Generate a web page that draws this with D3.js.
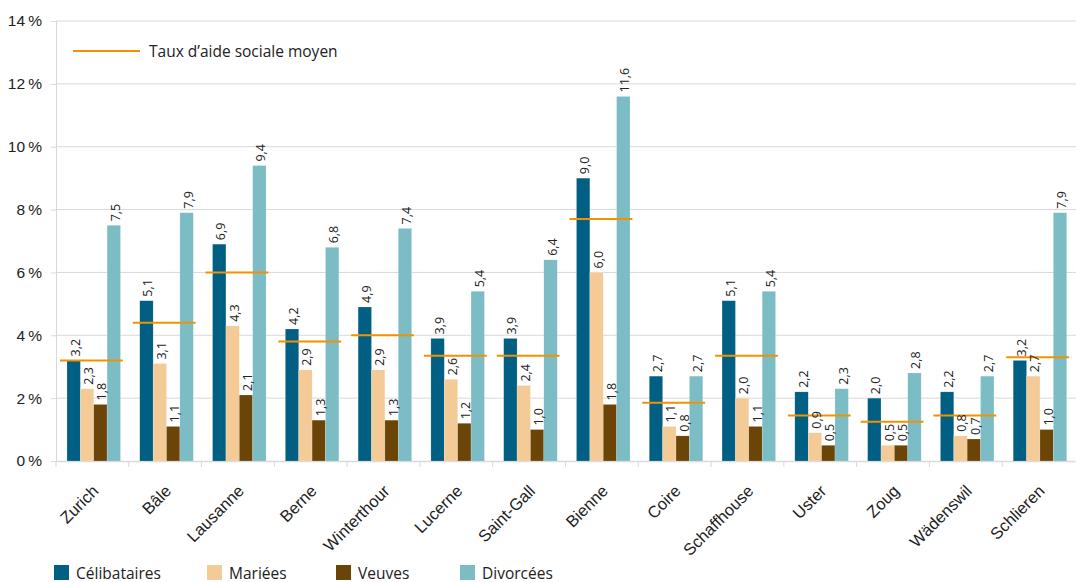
<!DOCTYPE html>
<html>
<head>
<meta charset="utf-8">
<script src="https://cdn.jsdelivr.net/npm/d3@7"></script>
<style>
  html, body { margin: 0; padding: 0; background: #fff; }
  svg { display: block; font-family: "Open Sans", "Noto Sans", sans-serif; }
</style>
</head>
<body>
<svg id="chart" width="1076" height="582"></svg>
<script>
// Taux d'aide sociale par état civil, par ville (%)
const cities = ["Zurich", "Bâle", "Lausanne", "Berne", "Winterthour", "Lucerne", "Saint-Gall",
  "Bienne", "Coire", "Schaffhouse", "Uster", "Zoug", "Wädenswil", "Schlieren"];
const celibataires = [3.2, 5.1, 6.9, 4.2, 4.9, 3.9, 3.9, 9.0, 2.7, 5.1, 2.2, 2.0, 2.2, 3.2];
const mariees      = [2.3, 3.1, 4.3, 2.9, 2.9, 2.6, 2.4, 6.0, 1.1, 2.0, 0.9, 0.5, 0.8, 2.7];
const veuves       = [1.8, 1.1, 2.1, 1.3, 1.3, 1.2, 1.0, 1.8, 0.8, 1.1, 0.5, 0.5, 0.7, 1.0];
const divorcees    = [7.5, 7.9, 9.4, 6.8, 7.4, 5.4, 6.4, 11.6, 2.7, 5.4, 2.3, 2.8, 2.7, 7.9];
const moyenne      = [3.2, 4.4, 6.0, 3.8, 4.0, 3.35, 3.35, 7.7, 1.85, 3.35, 1.45, 1.25, 1.45, 3.3];
const seriesNames  = ["Célibataires", "Mariées", "Veuves", "Divorcées"];
const seriesValues = [celibataires, mariees, veuves, divorcees];
const yTicks = [0, 2, 4, 6, 8, 10, 12, 14];
const meanLabel = "Taux d’aide sociale moyen";

const colors = ["#005f83", "#f4cb97", "#6b4508", "#7bbcc5"];
const meanColor = "#f39200";

const svg = d3.select("#chart");
const margin = { left: 56, right: 1, top: 21, bottom: 121 };
const W = 1076, H = 582;

const x = d3.scaleBand().domain(cities).range([margin.left, W - margin.right]).paddingInner(0).paddingOuter(0);
const inner = d3.scaleBand().domain(seriesNames).range([0, x.bandwidth()])
  .paddingInner(0).paddingOuter(0.72).align(0.57);
const y = d3.scaleLinear().domain([0, 14]).range([H - margin.bottom, margin.top]);

const fmt = v => d3.format(".1f")(v).replace(".", ",");

// grid lines
svg.append("g")
  .selectAll("line").data(yTicks.filter(t => t > 0)).join("line")
  .attr("x1", margin.left).attr("x2", W)
  .attr("y1", d => y(d)).attr("y2", d => y(d))
  .attr("stroke", "#d9d9d9").attr("stroke-width", 1);

// y axis
const yAxis = svg.append("g")
  .attr("transform", `translate(${margin.left},0)`)
  .call(d3.axisLeft(y).tickValues(yTicks).tickSize(5).tickPadding(8).tickFormat(d => d + "\u2009%"));
yAxis.select(".domain").attr("stroke", "#d9d9d9");
yAxis.selectAll(".tick line").attr("stroke", "#d9d9d9");
yAxis.selectAll(".tick text").attr("font-size", 15.5).attr("fill", "#222").attr("dx", -1);

// x axis
const xAxis = svg.append("g")
  .attr("transform", `translate(0,${y(0)})`)
  .call(d3.axisBottom(x).tickSize(0).tickPadding(0));
xAxis.select(".domain").attr("stroke", "#d9d9d9").attr("stroke-width", 1.5);
xAxis.selectAll(".tick text")
  .attr("font-size", 16.5).attr("fill", "#222")
  .attr("text-anchor", "end")
  .attr("transform", "translate(3,27) rotate(-45)")
  .attr("dy", "0.35em");
// boundary ticks between categories
svg.append("g").selectAll("line").data(cities).join("line")
  .attr("x1", d => x(d)).attr("x2", d => x(d))
  .attr("y1", y(0)).attr("y2", y(0) + 6)
  .attr("stroke", "#d9d9d9");

// bars
const groups = svg.append("g").selectAll("g").data(cities).join("g")
  .attr("transform", d => `translate(${x(d)},0)`);

seriesNames.forEach((name, si) => {
  groups.append("rect")
    .attr("x", inner(name))
    .attr("width", inner.bandwidth())
    .attr("y", (d, i) => y(seriesValues[si][i]))
    .attr("height", (d, i) => y(0) - y(seriesValues[si][i]))
    .attr("fill", colors[si])
    .attr("stroke", "#ffffff").attr("stroke-opacity", 0.35).attr("stroke-width", 0.5);
});

// mean lines
groups.append("line")
  .attr("x1", 4).attr("x2", x.bandwidth() - 6)
  .attr("y1", (d, i) => y(moyenne[i])).attr("y2", (d, i) => y(moyenne[i]))
  .attr("stroke", meanColor).attr("stroke-width", 2);

// value labels, rotated
seriesNames.forEach((name, si) => {
  groups.append("text")
    .attr("transform", (d, i) => `translate(${inner(name) + inner.bandwidth() / 2 + 6},${y(seriesValues[si][i]) - 4}) rotate(-90)`)
    .attr("font-size", 12.5).attr("fill", "#222")
    .attr("text-anchor", "start")
    .text((d, i) => fmt(seriesValues[si][i]));
});

// mean legend
svg.append("line").attr("x1", 73).attr("x2", 140).attr("y1", 51).attr("y2", 51)
  .attr("stroke", meanColor).attr("stroke-width", 2);
svg.append("text").attr("x", 149).attr("y", 56.5).attr("font-size", 15.5).attr("fill", "#222").text(meanLabel);

// series legend
const legX = [54, 207, 336, 460];
const leg = svg.append("g").selectAll("g").data(seriesNames).join("g")
  .attr("transform", (d, i) => `translate(${legX[i]},565)`);
leg.append("rect").attr("width", 15).attr("height", 15).attr("fill", (d, i) => colors[i]);
leg.append("text").attr("x", 22).attr("y", 13.5).attr("font-size", 15.5).attr("fill", "#222").text(d => d);
</script>
</body>
</html>
